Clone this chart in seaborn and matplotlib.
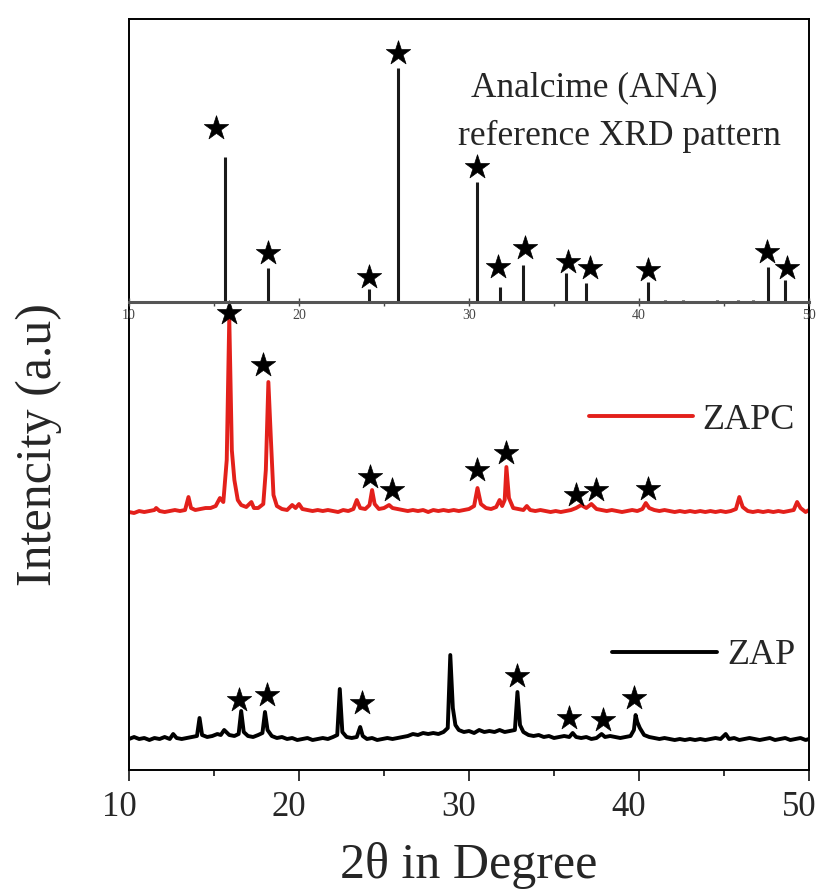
import matplotlib
matplotlib.use("Agg")
import numpy as np
import pandas as pd
import seaborn as sns
from matplotlib import pyplot as plt
from matplotlib.ticker import FixedLocator
from matplotlib.transforms import ScaledTranslation

sns.set_style("ticks")
plt.rcParams.update({
    "font.family": ["Liberation Serif", "DejaVu Serif"],
})

major_ticks = [10, 20, 30, 40, 50]
minor_ticks = [15, 25, 35, 45]

# ZAP pattern (2theta, intensity a.u., stacked scale)
zap_2t = [10.0, 10.3, 10.6, 10.9, 11.2, 11.5, 11.8, 12.1, 12.4, 12.6, 12.8, 13.1, 13.4, 13.7,
          14.0, 14.15, 14.3, 14.6, 14.9, 15.2, 15.4, 15.6, 15.9, 16.2, 16.45, 16.6, 16.75, 17.0,
          17.3, 17.6, 17.85, 18.0, 18.15, 18.4, 18.7, 19.0, 19.3, 19.6, 19.9, 20.2, 20.5, 20.8,
          21.1, 21.4, 21.7, 22.0, 22.25, 22.4, 22.55, 22.8, 23.1, 23.4, 23.6, 23.75, 24.0, 24.3,
          24.6, 24.9, 25.2, 25.5, 25.8, 26.1, 26.4, 26.7, 27.0, 27.3, 27.6, 27.9, 28.2, 28.5,
          28.75, 28.9, 29.05, 29.2, 29.4, 29.7, 30.0, 30.3, 30.6, 30.9, 31.2, 31.5, 31.8, 32.1,
          32.4, 32.7, 32.85, 33.0, 33.2, 33.5, 33.8, 34.1, 34.4, 34.7, 35.0, 35.3, 35.6, 35.9,
          36.1, 36.3, 36.6, 36.9, 37.2, 37.5, 37.8, 38.0, 38.3, 38.6, 38.9, 39.2, 39.5, 39.7,
          39.8, 39.9, 40.05, 40.3, 40.6, 40.9, 41.2, 41.5, 41.8, 42.1, 42.4, 42.7, 43.0, 43.3,
          43.6, 43.9, 44.2, 44.5, 44.8, 45.1, 45.3, 45.6, 45.9, 46.2, 46.5, 46.8, 47.1, 47.4,
          47.7, 48.0, 48.3, 48.6, 48.9, 49.2, 49.5, 49.8, 50.0]
zap_int = [31, 33, 31, 32, 30, 32, 31, 33, 31, 36, 32, 31, 32, 33,
           34, 52, 35, 33, 34, 36, 35, 40, 35, 34, 36, 59, 38, 34,
           33, 35, 37, 58, 40, 34, 32, 33, 31, 32, 30, 31, 32, 30,
           31, 32, 31, 33, 35, 81, 38, 33, 32, 33, 43, 34, 31, 32,
           30, 31, 32, 31, 32, 33, 34, 36, 35, 37, 36, 37, 36, 38,
           42, 115, 62, 45, 40, 38, 39, 37, 40, 38, 39, 38, 40, 38,
           39, 40, 78, 45, 38, 35, 34, 35, 33, 34, 32, 33, 34, 33,
           37, 33, 32, 33, 31, 32, 36, 33, 34, 33, 32, 33, 34, 40,
           55, 48, 42, 35, 33, 32, 31, 32, 31, 30, 31, 30, 31, 30,
           31, 30, 31, 32, 31, 36, 31, 32, 30, 31, 32, 31, 30, 31,
           32, 30, 31, 32, 30, 31, 32, 30, 31]

# ZAPC pattern
zapc_2t = [10.0, 10.3, 10.6, 10.9, 11.2, 11.5, 11.6, 11.8, 12.1, 12.4, 12.7, 13.0, 13.3, 13.5,
           13.65, 13.9, 14.2, 14.5, 14.8, 15.1, 15.35, 15.55, 15.75, 15.9, 16.05, 16.2, 16.4,
           16.6, 16.9, 17.2, 17.35, 17.6, 17.9, 18.05, 18.2, 18.35, 18.5, 18.7, 19.0, 19.3,
           19.6, 19.8, 20.0, 20.2, 20.5, 20.8, 21.1, 21.4, 21.7, 22.0, 22.3, 22.6, 22.9, 23.2,
           23.4, 23.6, 23.9, 24.15, 24.3, 24.45, 24.7, 25.0, 25.3, 25.5, 25.8, 26.1, 26.4, 26.7,
           27.0, 27.3, 27.6, 27.9, 28.2, 28.5, 28.8, 29.1, 29.4, 29.7, 30.0, 30.3, 30.5, 30.7,
           31.0, 31.3, 31.6, 31.8, 31.95, 32.1, 32.2, 32.35, 32.6, 32.9, 33.2, 33.4, 33.6, 33.9,
           34.2, 34.5, 34.8, 35.1, 35.4, 35.7, 36.0, 36.3, 36.6, 36.9, 37.2, 37.5, 37.8, 38.1,
           38.4, 38.7, 39.0, 39.3, 39.6, 39.9, 40.2, 40.4, 40.6, 40.9, 41.2, 41.5, 41.8, 42.1,
           42.4, 42.7, 43.0, 43.3, 43.6, 43.9, 44.2, 44.5, 44.8, 45.1, 45.4, 45.7, 45.9, 46.1,
           46.4, 46.7, 47.0, 47.3, 47.6, 47.9, 48.2, 48.5, 48.8, 49.1, 49.3, 49.5, 49.8, 50.0]
zapc_int = [258, 257, 259, 258, 259, 260, 262, 259, 258, 259, 260, 259, 260, 273,
            262, 260, 261, 262, 262, 264, 272, 268, 310, 452, 320, 290, 270,
            265, 263, 268, 262, 262, 266, 300, 388, 330, 275, 264, 261, 260,
            265, 262, 266, 261, 260, 259, 260, 259, 260, 259, 258, 260, 259, 261,
            270, 262, 261, 265, 280, 266, 261, 262, 265, 262, 261, 260, 259, 260,
            259, 260, 258, 260, 259, 260, 259, 260, 259, 260, 261, 264, 282, 266,
            262, 261, 263, 270, 264, 270, 303, 272, 262, 261, 260, 264, 260, 259,
            260, 259, 258, 259, 258, 259, 260, 262, 265, 262, 266, 261, 260, 259,
            260, 259, 258, 259, 260, 259, 261, 267, 262, 260, 259, 260, 259, 258,
            259, 258, 259, 258, 259, 258, 259, 258, 259, 258, 259, 261, 273, 263,
            259, 258, 259, 258, 259, 258, 259, 258, 259, 260, 268, 262, 258, 260]

# Analcime reference sticks (inset scale)
ref_pos = [15.65, 18.2, 24.1, 25.8, 30.45, 31.8, 33.2, 35.7, 36.9, 40.5,
           41.5, 42.6, 44.6, 45.8, 46.7, 47.6, 48.6]
ref_h = [145, 34, 13, 234, 120, 15, 37, 29, 19, 20, 2, 2, 2, 2, 2, 35, 22]

# star markers
ref_star_2t = [15.1, 18.2, 24.1, 25.8, 30.5, 31.7, 33.3, 35.8, 37.1, 40.5, 47.5, 48.7]
ref_star_y = [174, 49, 25, 249, 135, 35, 54, 40, 34, 32, 50, 34]
zapc_star_2t = [15.9, 17.9, 24.2, 25.5, 30.5, 32.2, 36.3, 37.5, 40.5]
zapc_star_y = [457, 405, 293, 280, 300, 317, 275, 280, 281]
zap_star_2t = [16.5, 18.1, 23.7, 32.8, 35.9, 37.9, 39.7]
zap_star_y = [70, 75, 67, 94, 52, 50, 72]

zap = pd.DataFrame({"2theta": zap_2t, "I": zap_int})
zapc = pd.DataFrame({"2theta": zapc_2t, "I": zapc_int})

fig = plt.figure(figsize=(8.22, 8.94), dpi=100)
ax = fig.add_axes([0.1569, 0.1387, 0.8273, 0.840])

sns.lineplot(data=zap, x="2theta", y="I", ax=ax, color="black", lw=2.8,
             estimator=None, sort=False, label="ZAP", legend=False)
sns.lineplot(data=zapc, x="2theta", y="I", ax=ax, color="#e3201b", lw=2.8,
             estimator=None, sort=False, label="ZAPC", legend=False)
sns.scatterplot(x=zap_star_2t, y=zap_star_y, ax=ax, marker="*", s=340,
                color="black", edgecolor="black", linewidth=0.5, zorder=4)
sns.scatterplot(x=zapc_star_2t, y=zapc_star_y, ax=ax, marker="*", s=340,
                color="black", edgecolor="black", linewidth=0.5, zorder=4)

ax.set_xlim(10, 50)
ax.set_ylim(0, 751)
ax.xaxis.set_major_locator(FixedLocator(major_ticks))
ax.xaxis.set_minor_locator(FixedLocator(minor_ticks))
ax.set_yticks([])
ax.tick_params(axis="x", which="major", direction="out", length=8, width=1.3,
               labelsize=25, pad=7, top=False)
ax.tick_params(axis="x", which="minor", direction="out", length=4, width=1.3, top=False)
for sp in ax.spines.values():
    sp.set_visible(True)
    sp.set_linewidth(1.4)
    sp.set_color("black")
ax.set_xlabel("2θ in Degree", fontsize=36, labelpad=13)
ax.set_ylabel("Intencity (a.u)", fontsize=36)
ax.yaxis.set_label_coords(-0.099, 0.433)

# tick labels sit a little left of their ticks in the original
shift = ScaledTranslation(-0.10, 0, fig.dpi_scale_trans)
for tick in ax.xaxis.get_major_ticks():
    tick.label1.set_transform(tick.label1.get_transform() + shift)

# legends as two separate entries
lines = ax.get_lines()
leg_zapc = ax.legend(handles=[lines[1]], loc="center left", bbox_to_anchor=(0.676, 0.466),
                     frameon=False, fontsize=26, handlelength=2.9, handletextpad=0.25,
                     borderpad=0, borderaxespad=0)
ax.add_artist(leg_zapc)
ax.legend(handles=[lines[0]], loc="center left", bbox_to_anchor=(0.710, 0.152),
          frameon=False, fontsize=26, handlelength=2.9, handletextpad=0.3,
          borderpad=0, borderaxespad=0)

# reference pattern in an inset axis
ins = ax.inset_axes([0, 0.6232, 1, 0.3768])
ins.set_facecolor("none")
ins.vlines(ref_pos, 0, ref_h, color="#1a1a1a", lw=2.2)
sns.scatterplot(x=ref_star_2t, y=ref_star_y, ax=ins, marker="*", s=340,
                color="black", edgecolor="black", linewidth=0.5, zorder=4)
ins.set_xlim(10, 50)
ins.set_ylim(0, 283)
ins.set_yticks([])
ins.xaxis.set_major_locator(FixedLocator(major_ticks))
ins.xaxis.set_minor_locator(FixedLocator(minor_ticks))
ins.tick_params(axis="x", which="major", direction="inout", length=6, width=1.0,
                labelsize=10, pad=2, colors="#444444")
ins.tick_params(axis="x", which="minor", direction="out", length=3, width=1.0, colors="#444444")
for side in ["top", "left", "right"]:
    ins.spines[side].set_visible(False)
ins.spines["bottom"].set_color("#555555")
ins.spines["bottom"].set_linewidth(2.2)
ins.set_xlabel("")
ins.set_ylabel("")

ax.text(0.503, 0.908, "Analcime (ANA)", transform=ax.transAxes, fontsize=25.5,
        ha="left", va="center")
ax.text(0.484, 0.843, "reference XRD pattern", transform=ax.transAxes, fontsize=25.5,
        ha="left", va="center")

fig.savefig("out.png", dpi=100)
plt.close(fig)
